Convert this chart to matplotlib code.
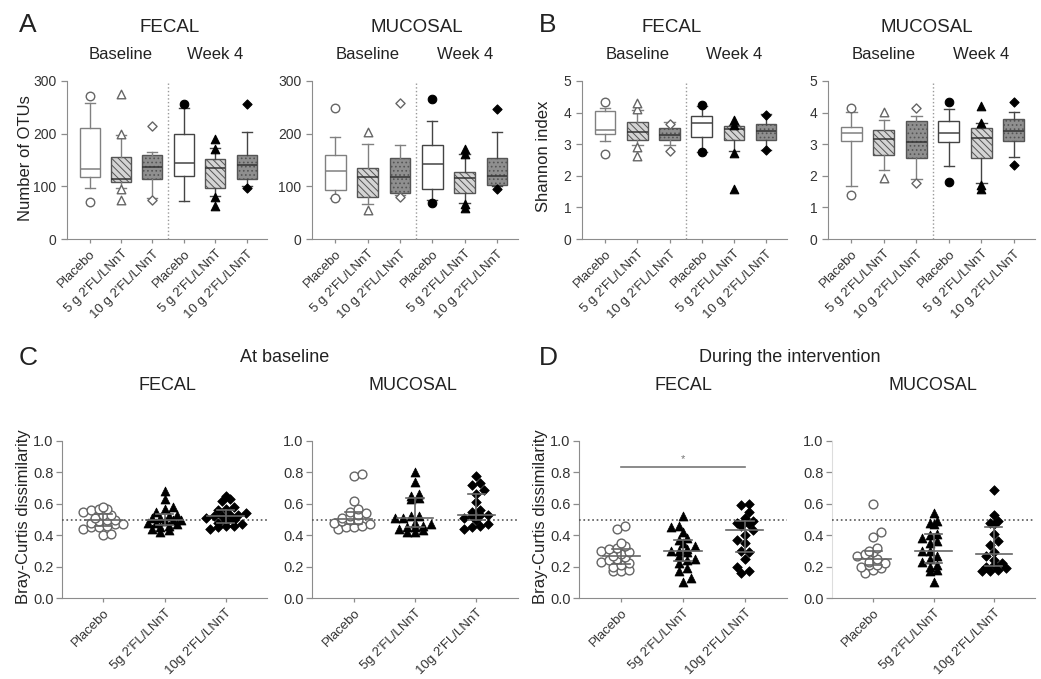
import numpy as np
import matplotlib
matplotlib.use('Agg')
import matplotlib.pyplot as plt
from matplotlib.transforms import blended_transform_factory as blend

plt.rcParams['font.family'] = ['Liberation Sans', 'DejaVu Sans']
plt.rcParams['hatch.linewidth'] = 0.7

W, H = 1041, 679

# ---------------- data ----------------
top_categories = ['Placebo', "5 g 2'FL/LNnT", "10 g 2'FL/LNnT"]
bottom_categories = ['Placebo', "5g 2'FL/LNnT", "10g 2'FL/LNnT"]

# Number of OTUs, FECAL (Baseline x3, Week 4 x3)
otu_fecal_med = [133, 113, 137, 144, 135, 141]
otu_fecal_q1 = [117, 109, 113, 120, 97, 113]
otu_fecal_q3 = [210, 155, 160, 199, 152, 160]
otu_fecal_lo = [96, 97, 78, 72, 81, 100]
otu_fecal_hi = [259, 197, 165, 249, 173, 203]
otu_fecal_out = [[271, 71], [276, 199, 94, 75], [214, 75], [256], [190, 171, 79, 63], [256, 97]]

# Number of OTUs, MUCOSAL
otu_muc_med = [129, 117, 118, 143, 115, 120]
otu_muc_q1 = [93, 79, 87, 95, 87, 103]
otu_muc_q3 = [159, 134, 153, 179, 127, 154]
otu_muc_lo = [78, 67, 83, 74, 68, 101]
otu_muc_hi = [193, 181, 179, 224, 161, 204]
otu_muc_out = [[248, 78], [203, 56], [259, 79], [266, 68], [170, 161, 59, 67], [246, 95]]

# Shannon index, FECAL
sh_fecal_med = [3.46, 3.40, 3.30, 3.66, 3.48, 3.43]
sh_fecal_q1 = [3.32, 3.13, 3.14, 3.24, 3.14, 3.14]
sh_fecal_q3 = [4.04, 3.71, 3.51, 3.90, 3.58, 3.64]
sh_fecal_lo = [3.11, 2.96, 2.98, 2.75, 2.80, 2.82]
sh_fecal_hi = [4.16, 4.09, 3.69, 4.20, 3.62, 3.95]
sh_fecal_out = [[4.32, 2.69], [4.11, 4.29, 2.92, 2.62], [3.64, 2.80], [4.23, 2.75], [3.62, 3.78, 2.71, 1.59], [3.93, 2.82]]

# Shannon index, MUCOSAL
sh_muc_med = [3.35, 3.15, 3.06, 3.35, 3.20, 3.41]
sh_muc_q1 = [3.09, 2.65, 2.57, 3.06, 2.57, 3.11]
sh_muc_q3 = [3.53, 3.46, 3.72, 3.72, 3.51, 3.80]
sh_muc_lo = [1.69, 2.18, 1.90, 2.30, 1.76, 2.60]
sh_muc_hi = [4.01, 3.77, 3.88, 4.10, 3.67, 4.01]
sh_muc_out = [[4.14, 1.40], [4.03, 1.93], [4.14, 1.76], [4.34, 1.79], [4.21, 3.67, 1.72, 1.58], [4.34, 2.33]]

# Bray-Curtis dissimilarity, at baseline
bc_base_fecal_placebo = [0.40, 0.41, 0.44, 0.45, 0.45, 0.46, 0.47, 0.47, 0.48, 0.49,
                         0.50, 0.50, 0.51, 0.53, 0.53, 0.55, 0.56, 0.57, 0.57, 0.58]
bc_base_fecal_5g = [0.42, 0.43, 0.44, 0.45, 0.46, 0.47, 0.48, 0.48, 0.49, 0.50,
                    0.50, 0.51, 0.51, 0.52, 0.53, 0.55, 0.57, 0.58, 0.63, 0.68]
bc_base_fecal_10g = [0.44, 0.45, 0.46, 0.46, 0.47, 0.48, 0.49, 0.50, 0.51, 0.52,
                     0.52, 0.53, 0.53, 0.54, 0.56, 0.57, 0.58, 0.62, 0.63, 0.65]
bc_base_muc_placebo = [0.44, 0.45, 0.45, 0.46, 0.47, 0.48, 0.49, 0.50, 0.50, 0.51,
                       0.52, 0.53, 0.54, 0.55, 0.57, 0.62, 0.78, 0.79]
bc_base_muc_5g = [0.42, 0.42, 0.43, 0.44, 0.45, 0.45, 0.46, 0.47, 0.48, 0.51,
                  0.51, 0.52, 0.52, 0.63, 0.64, 0.65, 0.66, 0.74, 0.80]
bc_base_muc_10g = [0.44, 0.45, 0.46, 0.47, 0.50, 0.51, 0.52, 0.53, 0.53, 0.55,
                   0.56, 0.61, 0.66, 0.69, 0.72, 0.73, 0.78]

# Bray-Curtis dissimilarity, during the intervention
bc_int_fecal_placebo = [0.17, 0.17, 0.18, 0.20, 0.21, 0.22, 0.23, 0.24, 0.25, 0.26,
                        0.27, 0.28, 0.29, 0.30, 0.31, 0.32, 0.33, 0.35, 0.44, 0.46]
bc_int_fecal_5g = [0.10, 0.13, 0.17, 0.19, 0.22, 0.24, 0.25, 0.27, 0.29, 0.30,
                   0.30, 0.31, 0.33, 0.35, 0.37, 0.38, 0.42, 0.45, 0.46, 0.52]
bc_int_fecal_10g = [0.16, 0.17, 0.20, 0.25, 0.29, 0.30, 0.35, 0.37, 0.40, 0.43,
                    0.46, 0.47, 0.48, 0.49, 0.49, 0.51, 0.55, 0.59, 0.60]
bc_int_muc_placebo = [0.16, 0.18, 0.19, 0.20, 0.21, 0.21, 0.22, 0.23, 0.25, 0.27,
                      0.28, 0.29, 0.30, 0.32, 0.39, 0.42, 0.60]
bc_int_muc_5g = [0.10, 0.17, 0.18, 0.20, 0.21, 0.23, 0.25, 0.27, 0.30, 0.30,
                 0.35, 0.36, 0.38, 0.40, 0.41, 0.47, 0.48, 0.49, 0.54]
bc_int_muc_10g = [0.17, 0.17, 0.18, 0.19, 0.20, 0.21, 0.22, 0.24, 0.27, 0.29,
                  0.34, 0.36, 0.41, 0.47, 0.48, 0.49, 0.53, 0.69]

# ---------------- helpers ----------------
fig = plt.figure(figsize=(W / 100, H / 100), dpi=100)

AX_COL = '#8c8c8c'
TXT = '#222222'


def add_ax(x0, x1, ytop, ybot):
    return fig.add_axes([x0 / W, 1 - ybot / H, (x1 - x0) / W, (ybot - ytop) / H])


def ftext(x, y, s, **kw):
    fig.text(x / W, 1 - y / H, s, color=TXT, **kw)


def style_axes(ax, faint_left=False):
    ax.spines['top'].set_visible(False)
    ax.spines['right'].set_visible(False)
    ax.spines['bottom'].set_color(AX_COL)
    ax.spines['left'].set_color('#dddddd' if faint_left else AX_COL)
    ax.tick_params(axis='both', colors=AX_COL, labelcolor='#333333', length=4, width=0.9)
    ax.tick_params(axis='x', length=3)


fills = [('white', None), ('#d4d4d4', '\\\\\\\\\\'), ('#8f8f8f', '....')]
markers = ['o', '^', 'D']
msizes = [42, 42, 24]


def box_panel(ax, med, q1, q3, lo, hi, out, ymax, yticks):
    stats = [dict(med=med[i], q1=q1[i], q3=q3[i], whislo=lo[i], whishi=hi[i], fliers=[])
             for i in range(6)]
    pos = np.arange(6)
    arts = ax.bxp(stats, positions=pos, widths=0.64, capwidths=0.32, patch_artist=True,
                  showfliers=False, manage_ticks=False)
    for i in range(6):
        g = i % 3
        ec = '#808080' if i < 3 else '#444444'
        fc, hatch = fills[g]
        b = arts['boxes'][i]
        b.set_facecolor(fc)
        b.set_edgecolor(ec if g == 0 else '#555555')
        b.set_linewidth(1.0)
        if hatch:
            b.set_hatch(hatch)
        arts['medians'][i].set_color('#333333' if g else ec)
        arts['medians'][i].set_linewidth(1.1)
        for k in (2 * i, 2 * i + 1):
            arts['whiskers'][k].set_color(ec)
            arts['whiskers'][k].set_linewidth(1.0)
            arts['caps'][k].set_color(ec)
            arts['caps'][k].set_linewidth(1.0)
        ys = out[i]
        if i < 3:
            ax.scatter([i] * len(ys), ys, marker=markers[g], s=msizes[g] * 0.9, facecolor='white',
                       edgecolor='#666666', linewidth=1.0, zorder=5, clip_on=False)
        else:
            ax.scatter([i] * len(ys), ys, marker=markers[g], s=msizes[g] * 0.9, facecolor='black',
                       edgecolor='black', linewidth=0.8, zorder=5, clip_on=False)
    ax.axvline(2.5, color='#999999', ls=':', lw=1.0)
    ax.set_xlim(-0.72, 5.65)
    ax.set_ylim(0, ymax)
    ax.set_yticks(yticks)
    ax.set_xticks(pos)
    ax.set_xticklabels(top_categories * 2, rotation=45, ha='right', rotation_mode='anchor',
                       fontsize=9.5)
    ax.tick_params(axis='y', labelsize=10)
    style_axes(ax)
    tr = blend(ax.transData, ax.transAxes)
    ax.text(1, 1.12, 'Baseline', transform=tr, ha='center', va='bottom', fontsize=12, color=TXT)
    ax.text(4, 1.12, 'Week 4', transform=tr, ha='center', va='bottom', fontsize=12, color=TXT)


def swarm(vals, sx=61.0, sy=157.0, rowh=5.5, gap=8.0, d=6.6):
    """Row-wise column-scatter layout: points in the same pixel row are spread
    side by side; a row is shifted by half a step if it would hit the rows below."""
    vals = np.asarray(vals, dtype=float)
    rows = np.round(vals * sy / rowh).astype(int)
    offs = np.zeros(len(vals))
    placed = []
    for r in np.unique(rows):
        idx = np.where(rows == r)[0]
        idx = idx[np.argsort(vals[idx], kind='stable')]
        n = len(idx)
        base = [(j - (n - 1) / 2) * gap for j in range(n)]
        ys = [vals[k] * sy for k in idx]
        best = 0.0
        for sh in (0.0, gap / 2, -gap / 2, gap, -gap):
            ok = all((b + sh - px) ** 2 + (y - py) ** 2 >= d * d
                     for b, y in zip(base, ys) for px, py in placed)
            if ok:
                best = sh
                break
        for b, y, k in zip(base, ys, idx):
            placed.append((b + best, y))
            offs[k] = (b + best) / sx
    return offs


def scatter_panel(ax, groups, faint_left=False):
    for i, vals in enumerate(groups):
        vals = np.asarray(vals, dtype=float)
        xs = i + swarm(vals)
        if i == 0:
            ax.scatter(xs, vals, marker='o', s=40, facecolor='white', edgecolor='#666666',
                       linewidth=1.0, zorder=4)
        else:
            ax.scatter(xs, vals, marker=markers[i], s=msizes[i], facecolor='black',
                       edgecolor='black', linewidth=0.5, zorder=4)
        q1, med, q3 = np.percentile(vals, [25, 50, 75])
        lc = '#666666'
        ax.plot([i - 0.3, i + 0.3], [med, med], color=lc, lw=1.2, zorder=5)
        ax.plot([i, i], [q1, q3], color=lc, lw=1.2, zorder=5)
        ax.plot([i - 0.14, i + 0.14], [q1, q1], color=lc, lw=1.2, zorder=5)
        ax.plot([i - 0.14, i + 0.14], [q3, q3], color=lc, lw=1.2, zorder=5)
    ax.axhline(0.5, ls=':', color='#555555', lw=1.2, zorder=3)
    ax.set_xlim(-0.68, 2.68)
    ax.set_ylim(0, 1.0)
    ax.set_yticks([0.0, 0.2, 0.4, 0.6, 0.8, 1.0])
    ax.set_yticklabels(['0.0', '0.2', '0.4', '0.6', '0.8', '1.0'])
    ax.set_xticks([0, 1, 2])
    ax.set_xticklabels(bottom_categories, rotation=45, ha='right', rotation_mode='anchor',
                       fontsize=9.5)
    ax.tick_params(axis='y', labelsize=10.5, pad=2)
    style_axes(ax, faint_left)


# ---------------- top row ----------------
axA1 = add_ax(67, 267, 81, 239)
box_panel(axA1, otu_fecal_med, otu_fecal_q1, otu_fecal_q3, otu_fecal_lo, otu_fecal_hi,
          otu_fecal_out, 300, [0, 100, 200, 300])
axA2 = add_ax(312, 518, 81, 239)
box_panel(axA2, otu_muc_med, otu_muc_q1, otu_muc_q3, otu_muc_lo, otu_muc_hi,
          otu_muc_out, 300, [0, 100, 200, 300])
axB1 = add_ax(582, 787, 81, 239)
box_panel(axB1, sh_fecal_med, sh_fecal_q1, sh_fecal_q3, sh_fecal_lo, sh_fecal_hi,
          sh_fecal_out, 5, [0, 1, 2, 3, 4, 5])
axB2 = add_ax(828, 1035, 81, 239)
box_panel(axB2, sh_muc_med, sh_muc_q1, sh_muc_q3, sh_muc_lo, sh_muc_hi,
          sh_muc_out, 5, [0, 1, 2, 3, 4, 5])

# ---------------- bottom row ----------------
axC1 = add_ax(62, 267, 441, 598)
scatter_panel(axC1, [bc_base_fecal_placebo, bc_base_fecal_5g, bc_base_fecal_10g])
axC2 = add_ax(312, 518, 441, 598)
scatter_panel(axC2, [bc_base_muc_placebo, bc_base_muc_5g, bc_base_muc_10g])
axD1 = add_ax(579, 787, 441, 598)
scatter_panel(axD1, [bc_int_fecal_placebo, bc_int_fecal_5g, bc_int_fecal_10g])
axD2 = add_ax(832, 1035, 441, 598)
scatter_panel(axD2, [bc_int_muc_placebo, bc_int_muc_5g, bc_int_muc_10g], faint_left=True)

# significance bar in D FECAL
axD1.plot([0, 2], [0.835, 0.835], color='#777777', lw=1.2, clip_on=False)
axD1.text(1, 0.855, '*', ha='center', va='bottom', fontsize=8, color='#777777')

# ---------------- texts ----------------
ftext(28, 25, 'A', fontsize=19, ha='center', va='center')
ftext(548, 25, 'B', fontsize=19, ha='center', va='center')
ftext(28, 358, 'C', fontsize=19, ha='center', va='center')
ftext(548, 358, 'D', fontsize=19, ha='center', va='center')

ftext(170, 28, 'FECAL', fontsize=13.5, ha='center', va='center')
ftext(417, 28, 'MUCOSAL', fontsize=13.5, ha='center', va='center')
ftext(672, 28, 'FECAL', fontsize=13.5, ha='center', va='center')
ftext(927, 28, 'MUCOSAL', fontsize=13.5, ha='center', va='center')

ftext(285, 358, 'At baseline', fontsize=13, ha='center', va='center')
ftext(790, 358, 'During the intervention', fontsize=13, ha='center', va='center')
ftext(167, 386, 'FECAL', fontsize=13, ha='center', va='center')
ftext(413, 386, 'MUCOSAL', fontsize=13, ha='center', va='center')
ftext(683, 386, 'FECAL', fontsize=13, ha='center', va='center')
ftext(933, 386, 'MUCOSAL', fontsize=13, ha='center', va='center')

ftext(26, 158, 'Number of OTUs', fontsize=12, rotation=90, ha='center', va='center')
ftext(543, 156, 'Shannon index', fontsize=12, rotation=90, ha='center', va='center')
ftext(24, 517, 'Bray-Curtis dissimilarity', fontsize=12, rotation=90, ha='center', va='center')
ftext(540, 517, 'Bray-Curtis dissimilarity', fontsize=12, rotation=90, ha='center', va='center')

fig.savefig('out.png', dpi=100, facecolor='white')
